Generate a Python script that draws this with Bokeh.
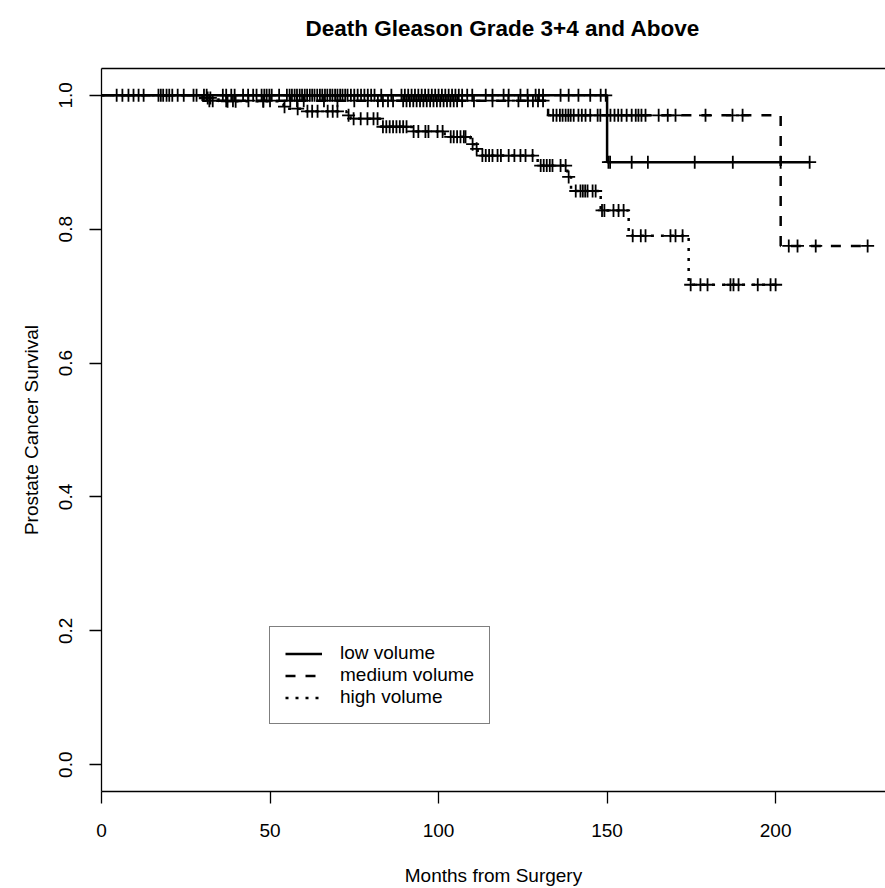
import numpy as np
from bokeh.plotting import figure
from bokeh.models import (Legend, LegendItem, LinearAxis, FixedTicker, Range1d,
                          PrintfTickFormatter)
from bokeh.embed import file_html
from bokeh.resources import INLINE

# ---------------- data ----------------
title_text = "Death Gleason Grade 3+4 and Above"
x_label = "Months from Surgery"
y_label = "Prostate Cancer Survival"
x_ticks = [0, 50, 100, 150, 200]
y_ticks = [0.0, 0.2, 0.4, 0.6, 0.8, 1.0]
group_names = ["low volume", "medium volume", "high volume"]

low_event_times = [150.0]
low_event_surv = [0.900]
low_censor_times = [4.5, 6.2, 8.0, 9.5, 11.0, 12.5, 16.9, 17.6, 18.3, 19.3, 20.1, 21.0,
                    22.6, 24.4, 27.3, 28.2, 30.4, 31.2, 36.0, 37.0, 38.5, 39.5, 42.0,
                    43.5, 45.0, 46.0, 47.5, 48.3, 49.0, 49.8, 50.5, 52.7, 55.0, 55.8,
                    56.5, 57.3, 58.0, 58.8, 59.5, 60.3, 61.0, 61.8, 62.5, 63.2, 64.0,
                    64.8, 65.5, 66.3, 67.0, 67.8, 68.5, 69.3, 70.0, 70.8, 71.5, 72.3,
                    73.0, 74.0, 75.0, 76.0, 77.0, 78.0, 79.0, 80.0, 81.0, 83.0, 86.0,
                    89.0, 90.0, 91.0, 92.0, 93.0, 94.0, 95.0, 96.0, 97.0, 98.0, 99.0,
                    100.0, 101.0, 102.0, 103.0, 104.0, 105.0, 106.0, 107.0, 108.5,
                    110.0, 114.0, 116.0, 119.3, 120.8, 124.3, 126.4, 128.8, 129.8,
                    131.0, 136.2, 138.6, 141.5, 145.0, 148.1, 149.6, 150.4, 150.9,
                    157.3, 162.1, 176.0, 187.3, 201.5, 210.1]

medium_event_times = [30.0, 132.5, 201.5]
medium_event_surv = [0.992, 0.970, 0.775]
medium_censor_times = [32.0, 33.0, 37.0, 39.0, 43.6, 48.0, 50.0, 56.0, 58.0, 60.0, 66.0,
                       70.0, 75.0, 79.0, 82.0, 83.5, 85.0, 86.5, 89.5, 90.5, 91.5, 92.5,
                       93.5, 94.5, 95.5, 96.5, 97.5, 98.5, 99.5, 100.5, 101.5, 102.5,
                       103.5, 104.5, 105.5, 107.0, 110.5, 116.0, 120.7, 123.7, 126.5,
                       128.0, 129.5, 131.0, 134.0, 135.0, 136.0, 136.8, 137.7, 138.5,
                       139.2, 140.1, 141.5, 142.5, 143.6, 145.0, 147.2, 148.0, 151.0,
                       152.2, 153.3, 154.3, 155.8, 157.3, 158.5, 159.3, 160.2, 161.4,
                       165.3, 168.0, 170.3, 179.2, 187.2, 190.2, 203.9, 206.5, 211.9,
                       227.3]

high_event_times = [28.5, 34.7, 52.8, 54.0, 55.2, 60.0, 72.7, 73.9, 83.1, 92.0, 101.8,
                    109.5, 111.0, 111.6, 129.4, 138.2, 139.3, 148.1, 156.4, 174.2]
high_event_surv = [0.996, 0.991, 0.987, 0.983, 0.980, 0.976, 0.970, 0.965, 0.953, 0.946,
                   0.938, 0.927, 0.920, 0.910, 0.895, 0.878, 0.857, 0.828, 0.790, 0.717]
high_censor_times = [31.5, 32.3, 37.4, 39.8, 48.0, 54.3, 58.2, 61.1, 62.5, 64.1, 67.1,
                     68.6, 70.0, 73.3, 74.8, 76.9, 78.9, 80.7, 81.9, 83.5, 84.5, 85.5,
                     86.5, 87.5, 88.5, 89.5, 90.5, 92.6, 94.0, 96.1, 97.0, 99.7, 101.2,
                     103.6, 104.5, 105.5, 106.5, 107.5, 108.0, 110.1, 111.3, 113.0,
                     114.0, 115.0, 116.0, 117.5, 118.5, 120.8, 122.5, 124.3, 125.8,
                     127.9, 130.3, 131.2, 132.1, 133.0, 133.8, 136.2, 137.7, 138.6,
                     140.7, 142.1, 142.8, 143.5, 144.2, 145.7, 146.6, 148.5, 149.2,
                     151.9, 153.4, 154.9, 157.6, 160.0, 161.4, 168.8, 170.3, 172.4,
                     174.8, 177.7, 179.8, 186.6, 187.5, 189.0, 194.7, 198.5, 200.0]

# ---------------- figure ----------------
FONT = "Liberation Sans"
p = figure(width=885, height=888, output_backend="svg", toolbar_location=None,
           x_range=Range1d(0, 232.6), y_range=Range1d(-0.04, 1.04),
           min_border_left=101, min_border_right=0, min_border_top=68,
           min_border_bottom=95)
p.grid.visible = False
p.outline_line_color = None
p.background_fill_color = "white"
p.border_fill_color = "white"

# a blank second title line lifts the title away from the box, as in R
p.title.text = title_text + "\n "
p.title.align = "left"
p.title.offset = 204
p.title.text_font = FONT
p.title.text_font_size = "22.5px"
p.title.text_font_style = "bold"
p.title.text_color = "black"
p.title.standoff = 6


def surv_at(t, ev_t, ev_s):
    s = 1.0
    for et, es in zip(ev_t, ev_s):
        if et <= t:
            s = es
    return s


groups = [
    (low_event_times, low_event_surv, low_censor_times, "solid"),
    (medium_event_times, medium_event_surv, medium_censor_times, "10 10"),
    (high_event_times, high_event_surv, high_censor_times, "3 7"),
]
items = []
for name, (ev_t, ev_s, cens, dash) in zip(group_names, groups):
    last_t = max(max(cens), max(ev_t))
    xs = [0.0] + list(ev_t) + [last_t]
    ys = [1.0] + list(ev_s) + [ev_s[-1]]
    r = p.step(xs, ys, mode="after", line_color="black", line_width=2.5,
               line_dash=dash)
    cy = [surv_at(t, ev_t, ev_s) for t in cens]
    p.scatter(cens, cy, marker="cross", size=13, line_color="black",
              line_width=1.8)
    items.append(LegendItem(label=name, renderers=[r]))

# axes
xa = p.xaxis[0]
ya = p.yaxis[0]
xa.ticker = FixedTicker(ticks=x_ticks)
ya.ticker = FixedTicker(ticks=y_ticks)
ya.formatter = PrintfTickFormatter(format="%.1f")
ya.major_label_orientation = "vertical"
xa.axis_label = x_label
ya.axis_label = y_label
for ax in (xa, ya):
    ax.axis_line_color = "black"
    ax.axis_line_width = 1.3
    ax.major_tick_line_color = "black"
    ax.major_tick_line_width = 1.3
    ax.major_tick_in = 0
    ax.major_tick_out = 12
    ax.minor_tick_line_color = None
    ax.major_label_text_font = FONT
    ax.major_label_text_font_size = "19px"
    ax.major_label_text_color = "black"
    ax.axis_label_text_font = FONT
    ax.axis_label_text_font_size = "19px"
    ax.axis_label_text_font_style = "normal"
    ax.axis_label_text_color = "black"
xa.major_label_standoff = 20
xa.axis_label_standoff = 25
ya.major_label_standoff = 17
ya.axis_label_standoff = 15

# top border line of the box
top = LinearAxis(ticker=FixedTicker(ticks=[]), axis_line_color="black",
                 axis_line_width=1.3, major_tick_out=0, major_tick_in=0,
                 major_tick_line_color=None,
                 minor_tick_line_color=None, major_label_standoff=0,
                 major_label_text_font_size="0px")
p.add_layout(top, "above")

legend = Legend(items=items, location=(168, 67), orientation="vertical",
                border_line_color="black", border_line_width=1.3,
                padding=15, spacing=0, margin=0,
                label_text_font=FONT, label_text_font_size="19px",
                label_text_color="black",
                glyph_width=37, glyph_height=21, label_height=21,
                label_standoff=18, label_width=134,
                background_fill_color="white", background_fill_alpha=1.0)
p.add_layout(legend)

open("out.html", "w").write(file_html(p, INLINE))
